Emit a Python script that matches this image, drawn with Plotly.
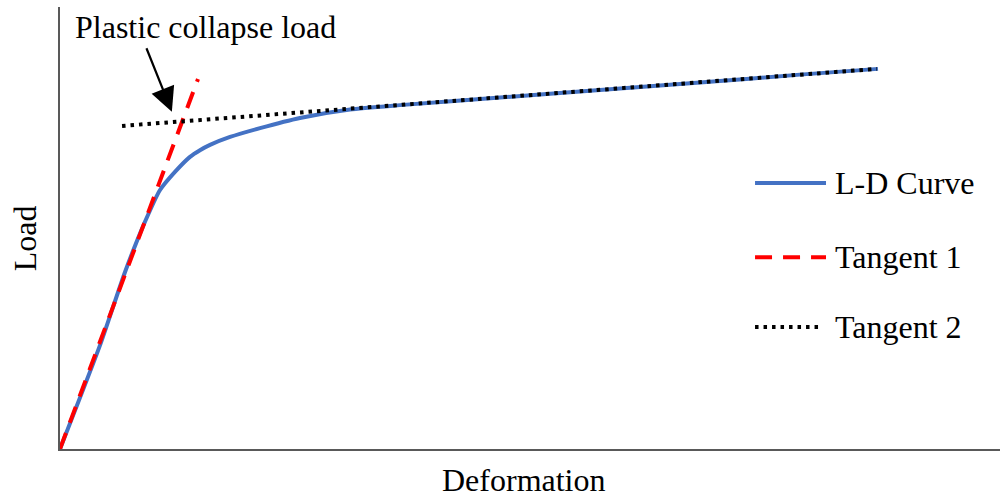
import plotly.graph_objects as go

# Load-deformation curve (arbitrary units, axes 0..100)
ld_deformation = [0.0, 4.26, 6.91, 9.04, 10.64, 12.23, 13.83, 14.89, 15.96, 18.09,
                  21.28, 25.53, 30.85, 36.17, 46.81, 57.45, 68.09, 78.72, 87.02]
ld_load = [0.0, 23.5, 40.0, 51.4, 58.6, 62.7, 66.1, 67.6, 68.8, 70.6,
           72.6, 74.9, 76.8, 77.8, 79.5, 81.2, 82.9, 84.7, 86.0]

tangent1_deformation = [0.0, 14.68]
tangent1_load = [0.0, 83.7]

tangent2_deformation = [6.60, 86.91]
tangent2_load = [73.1, 86.0]

collapse_point = (11.9, 76.3)

legend_labels = ["L-D Curve", "Tangent 1", "Tangent 2"]

BLUE = "#4472C4"
RED = "#FF0000"
BLACK = "#000000"
FONT = "Liberation Serif"

fig = go.Figure()
fig.add_trace(go.Scatter(x=ld_deformation, y=ld_load, mode="lines",
                         line=dict(color=BLUE, width=4, shape="spline", smoothing=0.6),
                         name=legend_labels[0], showlegend=False))
fig.add_trace(go.Scatter(x=tangent1_deformation, y=tangent1_load, mode="lines",
                         line=dict(color=RED, width=4, dash="17px,11px"),
                         name=legend_labels[1], showlegend=False))
fig.add_trace(go.Scatter(x=tangent2_deformation, y=tangent2_load, mode="lines",
                         line=dict(color=BLACK, width=4, dash="3.5px,5px"),
                         name=legend_labels[2], showlegend=False))

# manual legend
legend_styles = [dict(color=BLUE, width=4), dict(color=RED, width=4, dash="17px,11px"),
                 dict(color=BLACK, width=4, dash="3.5px,5px")]
legend_rows = [0.602, 0.434, 0.276]
legend_x1 = [0.8149, 0.8149, 0.8085]
for lab, sty, yy, x1 in zip(legend_labels, legend_styles, legend_rows, legend_x1):
    fig.add_shape(type="line", xref="paper", yref="paper", x0=0.7394, x1=x1, y0=yy, y1=yy,
                  line=sty)
    fig.add_annotation(xref="paper", yref="paper", x=0.8223, y=yy, text=lab,
                       showarrow=False, xanchor="left", yanchor="middle",
                       font=dict(family=FONT, size=32, color="black"))

# annotation arrow and text
fig.add_annotation(x=collapse_point[0], y=collapse_point[1], text="", showarrow=True,
                   axref="pixel", ayref="pixel", ax=-26, ay=-65,
                   arrowhead=2, arrowsize=2.2, arrowwidth=2.2, arrowcolor="black")
fig.add_annotation(xref="paper", yref="paper", x=0.0138, y=0.955, text="Plastic collapse load",
                   showarrow=False, xanchor="left", yanchor="middle",
                   font=dict(family=FONT, size=32, color="black"))

# axis titles
fig.add_annotation(xref="paper", yref="paper", x=-0.0372, y=0.477, text="Load",
                   textangle=-90, showarrow=False, xanchor="center", yanchor="middle",
                   font=dict(family=FONT, size=32, color="black"))
fig.add_annotation(xref="paper", yref="paper", x=0.4936, y=-0.0701, text="Deformation",
                   showarrow=False, xanchor="center", yanchor="middle",
                   font=dict(family=FONT, size=32, color="black"))

fig.update_xaxes(range=[0, 100], showline=True, linecolor="#595959", linewidth=2,
                 showgrid=False, zeroline=False, showticklabels=False, ticks="")
fig.update_yaxes(range=[0, 100], showline=True, linecolor="#595959", linewidth=2,
                 showgrid=False, zeroline=False, showticklabels=False, ticks="")
fig.update_layout(width=1000, height=497, margin=dict(l=60, r=0, t=7, b=48),
                  plot_bgcolor="white", paper_bgcolor="white", showlegend=False)

fig.write_html("out.html")
